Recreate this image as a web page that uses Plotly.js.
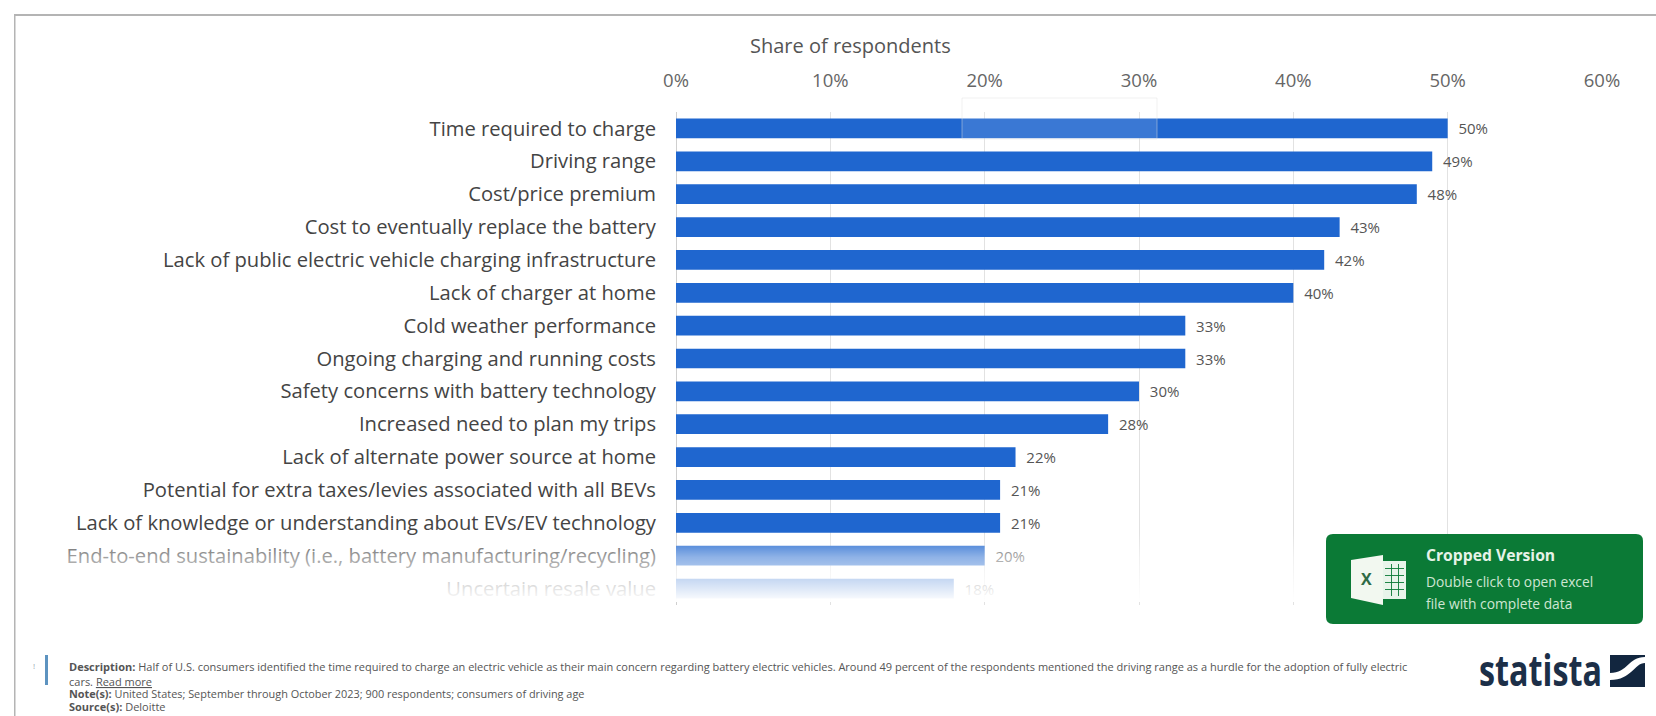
<!DOCTYPE html>
<html>
<head>
<meta charset="utf-8">
<script src="https://cdn.plot.ly/plotly-3.0.1.min.js"></script>
<style>
html,body{margin:0;padding:0;background:#fff;overflow:hidden}
#chart{width:1656px;height:716px}
</style>
</head>
<body>
<div id="chart"></div>
<script>
const categories = [
  "Time required to charge",
  "Driving range",
  "Cost/price premium",
  "Cost to eventually replace the battery",
  "Lack of public electric vehicle charging infrastructure",
  "Lack of charger at home",
  "Cold weather performance",
  "Ongoing charging and running costs",
  "Safety concerns with battery technology",
  "Increased need to plan my trips",
  "Lack of alternate power source at home",
  "Potential for extra taxes/levies associated with all BEVs",
  "Lack of knowledge or understanding about EVs/EV technology",
  "End-to-end sustainability (i.e., battery manufacturing/recycling)",
  "Uncertain resale value"
];
const shares = [50, 49, 48, 43, 42, 40, 33, 33, 30, 28, 22, 21, 21, 20, 18];
const xTicks = [0, 10, 20, 30, 40, 50, 60];

const W = 1656, H = 716;
const M = {l: 676, r: 54, t: 112, b: 111};
const plotW = W - M.l - M.r, plotH = H - M.t - M.b;
// Helpers: page pixels to paper fractions for the furniture around the plot
const px = x => (x - M.l) / plotW;
const py = y => 1 - (y - M.t) / plotH;

const textFont = '"Open Sans", sans-serif';
const badgeGreen = '#0b7a36';

function rect(x0, y0, x1, y1, fill, extra) {
  return Object.assign({type: 'rect', xref: 'paper', yref: 'paper',
    x0: px(x0), x1: px(x1), y0: py(y1), y1: py(y0),
    fillcolor: fill, line: {width: 0}, layer: 'above'}, extra || {});
}
function poly(points, fill, extra) {
  const d = points.map((p, i) => (i ? 'L' : 'M') + px(p[0]) + ',' + py(p[1])).join(' ') + ' Z';
  return Object.assign({type: 'path', xref: 'paper', yref: 'paper', path: d,
    fillcolor: fill, line: {width: 0}, layer: 'above'}, extra || {});
}
function roundedBadge(x0, y0, x1, y1, r, fill) {
  const d = [
    'M', px(x0 + r), py(y0), 'L', px(x1 - r), py(y0),
    'Q', px(x1), py(y0), px(x1), py(y0 + r),
    'L', px(x1), py(y1 - r),
    'Q', px(x1), py(y1), px(x1 - r), py(y1),
    'L', px(x0 + r), py(y1),
    'Q', px(x0), py(y1), px(x0), py(y1 - r),
    'L', px(x0), py(y0 + r),
    'Q', px(x0), py(y0), px(x0 + r), py(y0), 'Z'
  ].join(' ');
  return {type: 'path', xref: 'paper', yref: 'paper', path: d, fillcolor: fill, line: {width: 0}, layer: 'above'};
}
function note(x, y, text, size, color, anchor, family) {
  return {xref: 'paper', yref: 'paper', x: px(x), y: py(y), text: text,
    showarrow: false, xanchor: anchor || 'left', yanchor: 'middle',
    font: {family: family || textFont, size: size, color: color}, align: 'left', borderpad: 0};
}
// S-shaped white sweep across the Statista square
function sweep() {
  const p = (x, y) => px(x) + ',' + py(y);
  return {type: 'path', xref: 'paper', yref: 'paper', layer: 'above', fillcolor: '#ffffff', line: {width: 0},
    path: 'M' + p(1610, 673) + ' C' + p(1628, 673) + ' ' + p(1628, 657) + ' ' + p(1645, 657) +
      ' L' + p(1645, 663) + ' C' + p(1634, 663) + ' ' + p(1632, 680) + ' ' + p(1610, 680) + ' Z'};
}

const shapes = [
  // Card edges
  rect(14, 14, 1656, 16, '#b4b4b4', {layer: 'below'}),
  rect(14, 14, 15.5, 716, '#b4b4b4', {layer: 'below'}),
  // Pale box lying over the first bar
  rect(962, 98, 1157, 139, 'rgba(255,255,255,0.12)', {line: {width: 1, color: 'rgba(225,225,225,0.45)'}}),
  // Export badge
  roundedBadge(1326, 534, 1643, 624, 7, badgeGreen),
  // Spreadsheet icon
  rect(1383, 561, 1406, 599, '#e8f4ea'),
  poly([[1351, 560], [1383, 555], [1383, 605], [1351, 598]], '#f2f8f0'),
  // Statista mark
  rect(1610, 655, 1645, 687, '#12263f'),
  sweep(),
  // Accent rule beside the description
  rect(45, 655, 48, 685, '#5d93c0')
];
// Grid of the spreadsheet icon
[568, 575, 582, 589].forEach(y => shapes.push(rect(1385, y, 1404, y + 0.9, badgeGreen)));
[1391, 1398].forEach(x => shapes.push(rect(x, 564, x + 0.9, 596, badgeGreen)));

const annotations = [
  note(850, 45, 'Share of respondents', 20, '#555555', 'center'),
  note(1366, 579, '<b>X</b>', 16, '#2f6b45', 'center'),
  note(1425, 555, '<b>Cropped Version</b>', 15.7, '#e6f3e8'),
  note(1425, 581, 'Double click to open excel', 13.8, '#cfe6d3'),
  note(1425, 603, 'file with complete data', 13.8, '#cfe6d3'),
  note(1561, 669, '<b>statista</b>', 43, '#1c2f48', 'center'),
  note(34, 665, '!', 8, '#9aa6b2', 'center'),
  note(68, 666.5, '<b>Description:</b> Half of U.S. consumers identified the time required to charge an electric vehicle as their main concern regarding battery electric vehicles. Around 49 percent of the respondents mentioned the driving range as a hurdle for the adoption of fully electric', 11, '#555555'),
  note(68, 681, 'cars. <u>Read more</u>', 11, '#555555'),
  note(68, 693.5, '<b>Note(s):</b> United States; September through October 2023; 900 respondents; consumers of driving age', 10.9, '#555555'),
  note(68, 706, '<b>Source(s):</b> Deloitte', 11, '#555555')
];

// White wash that lets the lowest rows fade out
const fadeSvg = '<svg xmlns="http://www.w3.org/2000/svg" width="10" height="100" preserveAspectRatio="none">' +
  '<defs><linearGradient id="g" x1="0" y1="0" x2="0" y2="1">' +
  '<stop offset="0" stop-color="#fff" stop-opacity="0"/>' +
  '<stop offset="0.35" stop-color="#fff" stop-opacity="0.5"/>' +
  '<stop offset="1" stop-color="#fff" stop-opacity="1"/>' +
  '</linearGradient></defs><rect width="10" height="100" fill="url(#g)"/></svg>';

const data = [{
  type: 'bar',
  orientation: 'h',
  y: categories,
  x: shares,
  marker: {color: '#1f66cf', line: {width: 0}},
  width: 0.6,
  text: shares.map(v => '\u00a0\u00a0' + v + '%'),
  textposition: 'outside',
  textfont: {family: textFont, size: 15, color: '#555555'},
  constraintext: 'none',
  cliponaxis: false,
  hoverinfo: 'x+y'
}];

const layout = {
  width: W, height: H,
  margin: {l: M.l, r: M.r, t: M.t, b: M.b, pad: 0},
  paper_bgcolor: '#ffffff',
  plot_bgcolor: '#ffffff',
  showlegend: false,
  xaxis: {
    side: 'top',
    range: [0, 60],
    tickvals: xTicks,
    ticktext: xTicks.map(v => v + '%'),
    ticks: '',
    ticklabelstandoff: 20,
    tickfont: {family: textFont, size: 18.5, color: '#666666'},
    showgrid: true,
    gridcolor: '#e2e2e2',
    gridwidth: 1,
    zeroline: true,
    zerolinecolor: '#cfcfcf',
    zerolinewidth: 1,
    showline: false,
    fixedrange: true
  },
  yaxis: {
    type: 'category',
    categoryorder: 'array',
    categoryarray: categories,
    range: [categories.length - 0.5, -0.5],
    ticks: '',
    ticklabelstandoff: 19,
    tickfont: {family: textFont, size: 20.2, color: '#444444'},
    showgrid: false,
    zeroline: false,
    showline: false,
    fixedrange: true
  },
  shapes: shapes,
  annotations: annotations,
  images: [{
    source: 'data:image/svg+xml;utf8,' + encodeURIComponent(fadeSvg),
    xref: 'paper', yref: 'paper',
    x: px(16), y: py(533),
    sizex: px(1656) - px(16), sizey: py(533) - py(602),
    xanchor: 'left', yanchor: 'top',
    sizing: 'stretch', layer: 'above'
  }]
};

Plotly.newPlot('chart', data, layout, {displayModeBar: false, staticPlot: true}).then(gd => {
  // The wordmark is a narrow face: squeeze the bold text to its 123px width
  const wordmark = [...gd.querySelectorAll('.annotation-text')].find(t => t.textContent === 'statista');
  if (wordmark) {
    wordmark.setAttribute('textLength', '123');
    wordmark.setAttribute('lengthAdjust', 'spacingAndGlyphs');
  }
});
</script>
</body>
</html>
